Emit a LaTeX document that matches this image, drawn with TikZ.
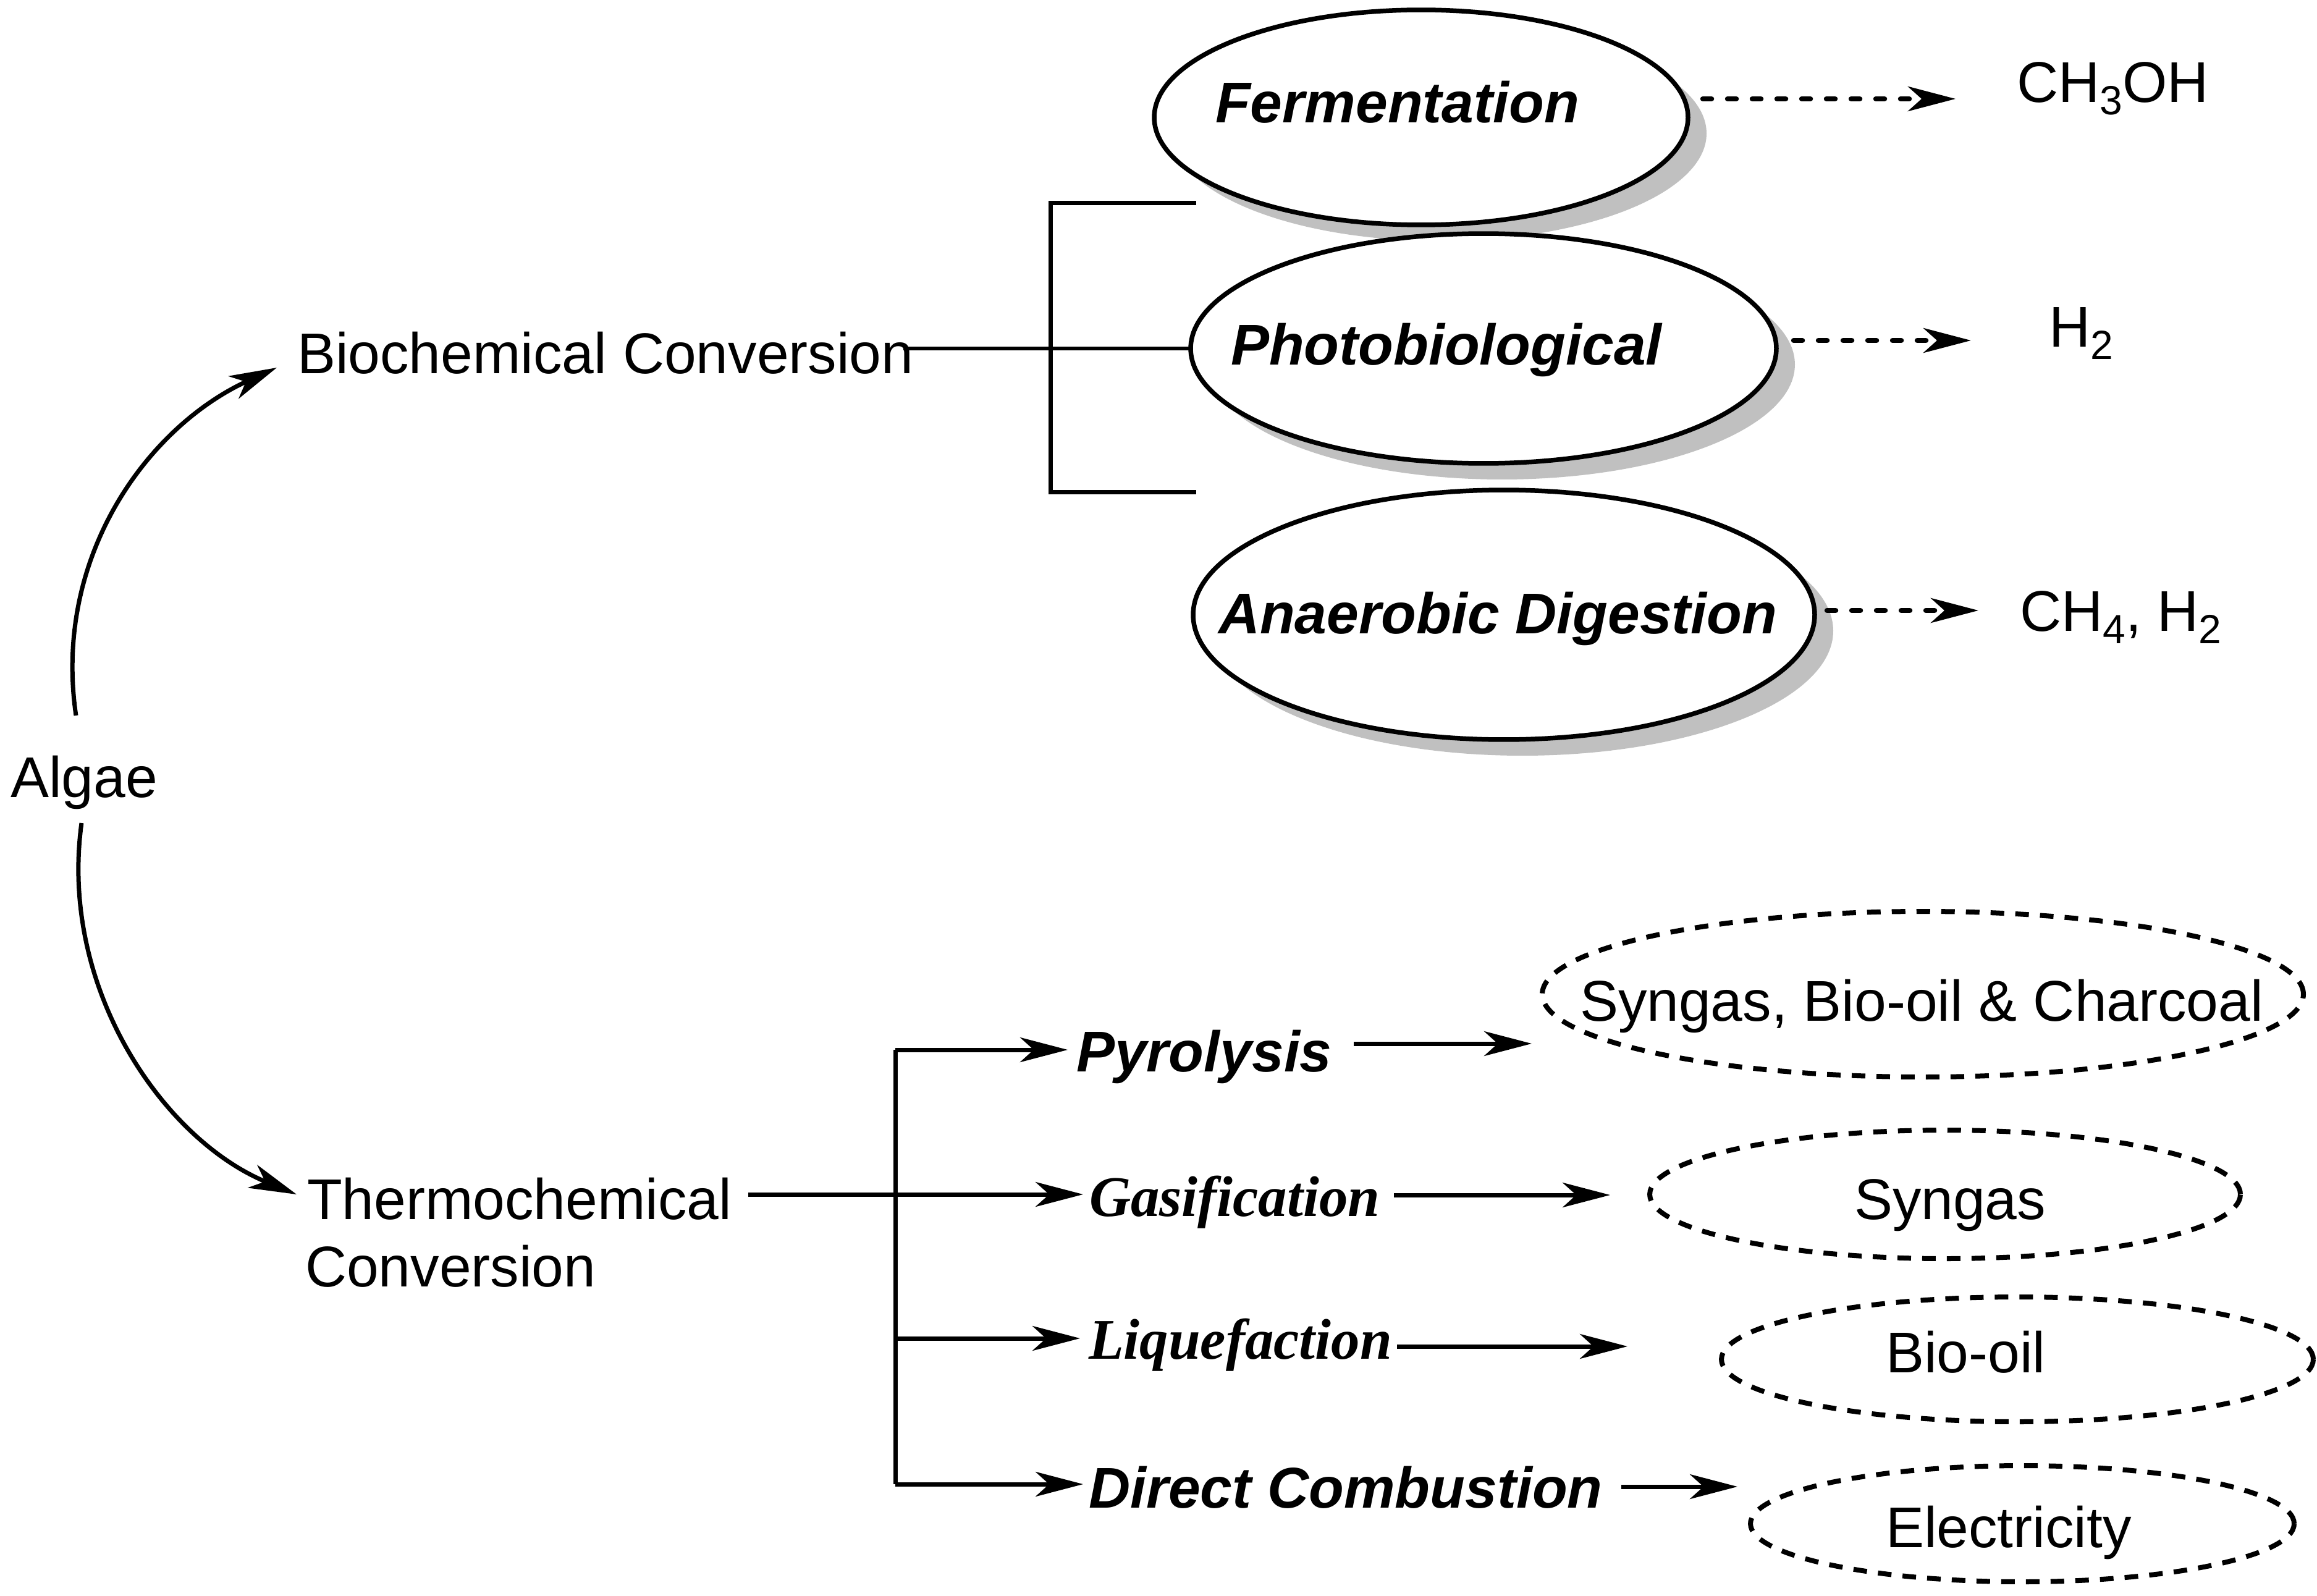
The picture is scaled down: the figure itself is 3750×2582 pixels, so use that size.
\documentclass[tikz,border=0pt]{standalone}
\usepackage{fontspec}
\setmainfont{Liberation Sans}
\newfontfamily\timesf{Liberation Serif}
\usetikzlibrary{arrows.meta,shapes.geometric,shadows}
\definecolor{shadowgray}{RGB}{192,192,192}
\newcommand\mysub[1]{\raisebox{-2pt}{\fontsize{6.6pt}{7pt}\selectfont #1}}
\begin{document}
\begin{tikzpicture}[x=0.1pt,y=-0.1pt,
  every node/.style={inner sep=0pt, outer sep=0pt, font=\fontsize{9.3pt}{10.9pt}\selectfont},
  txt/.style={anchor=base west},
  proc/.style={anchor=base west, font=\fontsize{9.3pt}{10.9pt}\selectfont\bfseries\itshape},
  procserif/.style={anchor=base west, font=\fontsize{9.3pt}{10.9pt}\selectfont\timesf\bfseries\itshape},
  bioell/.style={ellipse, draw, line width=0.75pt, fill=white,
     drop shadow={shadow xshift=3pt, shadow yshift=-2.6pt, fill=shadowgray, opacity=1}},
  prodell/.style={ellipse, draw, line width=0.8pt, dash pattern=on 2.2pt off 1.8pt},
  ln/.style={line width=0.7pt},
  arr/.style={line width=0.7pt, -{Stealth[length=7.7pt,width=4pt,inset=2.2pt]}},
  darr/.style={line width=0.85pt, line cap=round, dash pattern=on 1.4pt off 2.6pt,
     -{Stealth[length=7.7pt,width=4pt,inset=2.2pt]}}
]
\useasboundingbox (0,0) rectangle (3750,2582);

% ---- left part
\node[txt] (algae) at (17,1290) {Algae};
\node[txt] (bio) at (481,605) {Biochemical Conversion};
\node[txt] (thermoA) at (497,1973) {Thermochemical};
\node[txt] (thermoB) at (494,2082) {Conversion};

\coordinate (a1s) at (123,1158);
\coordinate (a1e) at (448,595);
\coordinate (a2s) at (132,1332);
\coordinate (a2e) at (480,1933);
\draw[arr] (a1s) .. controls (85,900) and (240,690) .. (a1e);
\draw[arr] (a2s) .. controls (95,1600) and (265,1845) .. (a2e);

% ---- biochemical ellipses
\node[bioell, minimum width=86.4pt, minimum height=34.8pt] (ferm) at (2300,190) {};
\node[bioell, minimum width=94.8pt, minimum height=37.2pt] (photo) at (2401,564) {};
\node[bioell, minimum width=100.6pt, minimum height=40.4pt] (anae) at (2434,995) {};
\node[proc] (fermt) at (1967,199) {Fermentation};
\node[proc] (photot) at (1992,590) {Photobiological};
\node[proc] (anaet) at (1972,1025) {Anaerobic Digestion};

% bracket
\coordinate (bstart) at (1462,564);
\coordinate (btop) at (1700,329);
\coordinate (bbot) at (1700,796);
\coordinate (btopR) at (1936,329);
\coordinate (bbotR) at (1936,796);
\draw[ln] (bstart) -- (photo.west);
\draw[ln] (btopR) -- (btop) -- (bbot) -- (bbotR);

% products (biochemical)
\node[txt] (meth) at (3264,166) {CH\mysub{3}OH};
\node[txt] (hyd) at (3316,561) {H\mysub{2}};
\node[txt] (mix) at (3269,1021) {CH\mysub{4}, H\mysub{2}};
\coordinate (d1s) at (2756,160);
\coordinate (d1e) at (3165,160);
\coordinate (d2s) at (2903,551);
\coordinate (d2e) at (3190,551);
\coordinate (d3s) at (2957,988);
\coordinate (d3e) at (3202,988);
\draw[darr] (d1s) -- (d1e);
\draw[darr] (d2s) -- (d2e);
\draw[darr] (d3s) -- (d3e);

% ---- thermochemical
\coordinate (tstart) at (1211,1933);
\coordinate (vtop) at (1449,1699);
\coordinate (vlq) at (1449,2166);
\coordinate (vbot) at (1449,2402);
\draw[ln] (vtop) -- (vbot);
\node[proc] (pyr) at (1742,1734) {Pyrolysis};
\node[procserif] (gas) at (1763,1968) {Gasification};
\node[procserif] (liq) at (1762,2199) {Liquefaction};
\node[proc] (comb) at (1762,2440) {Direct Combustion};
\coordinate (pyrin) at (1728,1699);
\coordinate (gasin) at (1753,1933);
\coordinate (liqin) at (1748,2166);
\coordinate (combin) at (1753,2402);
\draw[arr] (vtop) -- (pyrin);
\draw[arr] (tstart) -- (gasin);
\draw[arr] (vlq) -- (liqin);
\draw[arr] (vbot) -- (combin);

% product ellipses
\node[prodell, minimum width=123.2pt, minimum height=26.8pt] (sbc) at (3112,1609) {};
\node[prodell, minimum width=95.6pt, minimum height=20.8pt] (syn) at (3148,1933) {};
\node[prodell, minimum width=95.8pt, minimum height=20.2pt] (oil) at (3265,2200) {};
\node[prodell, minimum width=88pt, minimum height=18.8pt] (elec) at (3273,2466) {};
\node[txt] (sbct) at (2557,1652) {Syngas, Bio-oil \& Charcoal};
\node[txt] (synt) at (3001,1973) {Syngas};
\node[txt] (oilt) at (3052,2221) {Bio-oil};
\node[txt] (elect) at (3052,2504) {Electricity};

\coordinate (p1s) at (2191,1689);
\coordinate (p1e) at (2479,1689);
\coordinate (p2s) at (2256,1934);
\coordinate (p2e) at (2606,1934);
\coordinate (p3s) at (2261,2179);
\coordinate (p3e) at (2634,2179);
\coordinate (p4s) at (2624,2406);
\coordinate (p4e) at (2812,2406);
\draw[arr] (p1s) -- (p1e);
\draw[arr] (p2s) -- (p2e);
\draw[arr] (p3s) -- (p3e);
\draw[arr] (p4s) -- (p4e);
\end{tikzpicture}
\end{document}
